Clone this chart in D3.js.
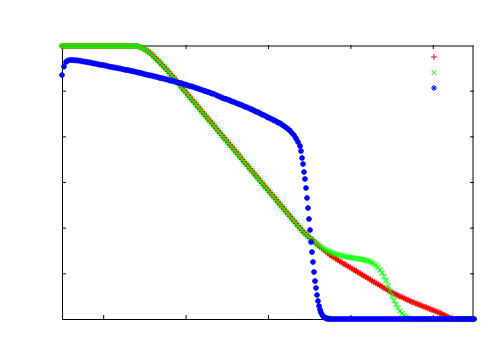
<!DOCTYPE html>
<html>
<head>
<meta charset="utf-8">
<script src="https://cdn.jsdelivr.net/npm/d3@7"></script>
<style>
  body { margin: 0; background: #fff; }
</style>
</head>
<body>
<svg width="500" height="350"></svg>
<script>
// profiles sampled on a regular grid of 207 cells over [0, 1]
var nGrid = 207;

var redValues = [
  1.196,1.196,1.196,1.196,1.196,1.196,1.196,1.196,1.196,1.196,
  1.196,1.196,1.196,1.196,1.196,1.196,1.196,1.196,1.196,1.196,
  1.196,1.196,1.196,1.196,1.196,1.196,1.196,1.196,1.196,1.196,
  1.196,1.196,1.196,1.196,1.196,1.196,1.196,1.196,
  1.194,1.191,1.188,1.183,1.178,1.172,1.165,1.158,1.149,1.141,1.132,
  1.123,1.114,1.105,1.095,1.085,1.075,1.065,1.055,1.044,1.034,1.023,
  1.013,1.002,0.992,0.981,0.971,0.960,0.950,0.940,0.929,0.919,
  0.908,0.898,0.887,0.877,0.867,0.856,0.846,0.835,0.825,0.815,
  0.804,0.794,0.783,0.773,0.762,0.752,0.742,0.731,0.721,0.710,
  0.700,0.689,0.679,0.669,0.658,0.648,0.637,0.627,0.616,0.606,
  0.596,0.585,0.575,0.564,0.554,0.544,0.533,0.523,0.512,0.502,
  0.492,0.481,0.471,0.460,0.450,0.439,0.429,0.418,0.408,0.398,
  0.388,0.379,0.370,0.362,0.354,
  0.347,0.339,0.331,0.323,0.315,
  0.308,0.301,0.294,0.287,0.280,0.275,0.269,0.263,0.258,0.252,
  0.247,0.241,0.236,0.231,0.226,
  0.220,0.215,0.210,0.205,0.199,0.194,0.189,0.184,0.178,0.173,
  0.168,0.162,0.157,0.152,0.147,0.141,0.136,0.131,0.126,0.120,
  0.116,0.112,0.107,0.103,0.099,
  0.095,0.091,0.087,0.083,0.079,0.075,0.072,0.068,0.065,0.061,
  0.058,0.054,0.051,0.047,0.044,0.040,0.037,0.033,0.030,0.026,
  0.022,0.018,0.013,0.009,0.004,0.002,
  0,0,0,0,0,0,0,0,0,0,0
];

var greenValues = [
  1.196,1.196,1.196,1.196,1.196,1.196,1.196,1.196,1.196,1.196,
  1.196,1.196,1.196,1.196,1.196,1.196,1.196,1.196,1.196,1.196,
  1.196,1.196,1.196,1.196,1.196,1.196,1.196,1.196,1.196,1.196,
  1.196,1.196,1.196,1.196,1.196,1.196,1.196,1.196,
  1.194,1.191,1.188,1.183,1.178,1.172,1.165,1.158,1.149,1.141,1.132,
  1.123,1.114,1.105,1.095,1.085,1.075,1.065,1.055,1.044,1.034,1.023,
  1.013,1.002,0.992,0.981,0.971,0.960,0.950,0.940,0.929,0.919,
  0.908,0.898,0.887,0.877,0.867,0.856,0.846,0.835,0.825,0.815,
  0.804,0.794,0.783,0.773,0.762,0.752,0.742,0.731,0.721,0.710,
  0.700,0.689,0.679,0.669,0.658,0.648,0.637,0.627,0.616,0.606,
  0.596,0.585,0.575,0.564,0.554,0.544,0.533,0.523,0.512,0.502,
  0.492,0.481,0.471,0.460,0.450,0.439,0.429,0.418,0.408,0.398,
  0.388,0.379,0.370,0.362,0.354,
  0.347,0.340,0.333,0.326,0.319,0.313,0.307,0.302,0.298,0.294,
  0.290,0.287,0.284,0.281,0.279,0.277,0.275,0.273,0.271,0.270,
  0.268,0.267,0.265,0.264,0.263,0.261,0.259,0.257,0.254,0.251,
  0.247,0.241,0.235,0.226,0.215,0.202,0.186,0.168,0.146,0.123,
  0.101,0.081,0.064,0.048,0.035,0.024,0.015,0.009,0.004,0.002,
  0,0,0,0,0,0,0,0,0,0,0,0,0,0,0,0,
  0,0,0,0,0,0,0,0,0,0,0,0,0,0,0,0
];

var blueValues = [
  1.069,1.106,1.126,1.132,1.134,1.134,1.133,1.133,1.132,1.131,
  1.129,1.128,1.126,1.125,1.123,1.121,1.119,1.118,1.116,1.114,
  1.112,1.111,1.109,1.107,1.105,1.104,1.102,1.100,1.098,1.097,
  1.095,1.093,1.091,1.090,1.087,1.086,1.084,1.082,1.080,1.077,
  1.076,1.073,1.071,1.069,1.067,1.065,1.063,1.061,1.059,1.056,
  1.054,1.052,1.050,1.048,1.045,1.043,1.041,1.038,1.036,1.034,
  1.031,1.028,1.026,1.023,1.020,1.018,1.015,1.012,1.009,1.006,
  1.003,1.000,0.997,0.994,0.991,0.988,0.985,0.981,0.977,0.973,
  0.969,0.966,0.963,0.960,0.957,0.953,0.950,0.946,0.943,0.939,
  0.936,0.932,0.928,0.925,0.921,0.917,0.913,0.909,0.905,0.901,
  0.896,0.892,0.888,0.883,0.879,0.875,0.870,0.866,0.861,0.857,
  0.851,0.845,0.839,0.832,0.825,0.815,0.805,0.791,0.775,0.758,
  0.705,0.644,0.574,0.486,0.390,0.293,0.206,0.136,0.079,0.042,
  0.020,0.009,0.003,0.001,0,
  0,0,0,0,0,0,0,0,0,0,0,0,0,0,0,0,0,0,0,0,0,0,0,0,
  0,0,0,0,0,0,0,0,0,0,0,0,0,0,0,0,0,0,0,0,0,0,0,0,
  0,0,0,0,0,0,0,0,0,0,0,0,0,0,0,0,0,0,0,0,0,0,0,0
];

// extra blue samples inside the steep front
var blueFrontX = [0.5801,0.5850,0.5898,0.5947,0.5995,0.6044,0.6092,0.6141,
                  0.6189,0.6238,0.6286,0.6335,0.6383,0.6432,0.6481];
var blueFrontY = [0.736,0.679,0.613,0.530,0.438,0.337,0.250,0.166,
                  0.105,0.057,0.028,0.013,0.005,0.002,0.001];

var xTicks = [0.1, 0.3, 0.5, 0.7, 0.9];
var yTicks = [0.2, 0.4, 0.6, 0.8, 1.0];

var svg = d3.select("svg"),
    margin = {top: 45, right: 26, bottom: 31, left: 62},
    width = 500 - margin.left - margin.right,
    height = 350 - margin.top - margin.bottom;

var x = d3.scaleLinear().domain([0, 1]).range([0, width]),
    y = d3.scaleLinear().domain([0, 1.2]).range([height, 0]);

var g = svg.append("g")
    .attr("transform", "translate(" + margin.left + "," + margin.top + ")");

var gridX = d3.range(nGrid).map(function(i) { return i / (nGrid - 1); });

function toPoints(xs, ys) {
  return ys.map(function(v, i) { return {x: xs[i], y: v}; });
}

var redData = toPoints(gridX, redValues),
    greenData = toPoints(gridX, greenValues),
    blueData = toPoints(gridX, blueValues).concat(toPoints(blueFrontX, blueFrontY));

var symPlus = "M-3,0H3M0,-3V3",
    symCross = "M-2.5,-2.5L2.5,2.5M-2.5,2.5L2.5,-2.5",
    symStar = "M-3,0H3M0,-3V3M-2,-2L2,2M-2,2L2,-2";

var series = [
  {data: redData, sym: symPlus, color: "#ff0000", opacity: 1},
  {data: greenData, sym: symCross, color: "#00ff00", opacity: 0.7},
  {data: blueData, sym: symStar, color: "#0000ff", opacity: 1}
];

// ticks: inward on all four sides, no labels
var xAxis = d3.axisBottom(x).tickValues(xTicks).tickSize(-4).tickFormat(""),
    xAxisTop = d3.axisTop(x).tickValues(xTicks).tickSize(-4).tickFormat(""),
    yAxis = d3.axisLeft(y).tickValues(yTicks).tickSize(-4).tickFormat(""),
    yAxisRight = d3.axisRight(y).tickValues(yTicks).tickSize(-4).tickFormat("");

g.append("g").attr("transform", "translate(0," + height + ")").call(xAxis);
g.append("g").call(xAxisTop);
g.append("g").call(yAxis);
g.append("g").attr("transform", "translate(" + width + ",0)").call(yAxisRight);
g.selectAll(".domain").remove();
g.selectAll(".tick line").attr("stroke", "#000");

// border
g.append("line").attr("x1", 0.5).attr("x2", 0.5).attr("y1", 1).attr("y2", height + 1)
    .attr("stroke", "#000");
g.append("line").attr("x1", 0).attr("x2", width).attr("y1", height + 0.5).attr("y2", height + 0.5)
    .attr("stroke", "#000");
g.append("line").attr("x1", 0).attr("x2", width).attr("y1", 1).attr("y2", 1)
    .attr("stroke", "#000");
g.append("line").attr("x1", width - 1).attr("x2", width - 1).attr("y1", 1).attr("y2", height)
    .attr("stroke", "#000");

series.forEach(function(s) {
  g.append("g")
      .attr("stroke", s.color)
      .attr("stroke-opacity", s.opacity)
      .attr("stroke-width", 1.5)
      .attr("fill", "none")
    .selectAll("path")
    .data(s.data)
    .enter().append("path")
      .attr("d", s.sym)
      .attr("transform", function(d) { return "translate(" + x(d.x) + "," + y(d.y) + ")"; });
});

// key: samples only, titles are empty
var key = g.append("g").attr("transform", "translate(" + (width - 40) + ",12)");
series.forEach(function(s, i) {
  key.append("path")
      .attr("d", s.sym)
      .attr("stroke", s.color)
      .attr("fill", "none")
      .attr("transform", "translate(0," + (i * 15.5) + ")");
});
</script>
</body>
</html>
